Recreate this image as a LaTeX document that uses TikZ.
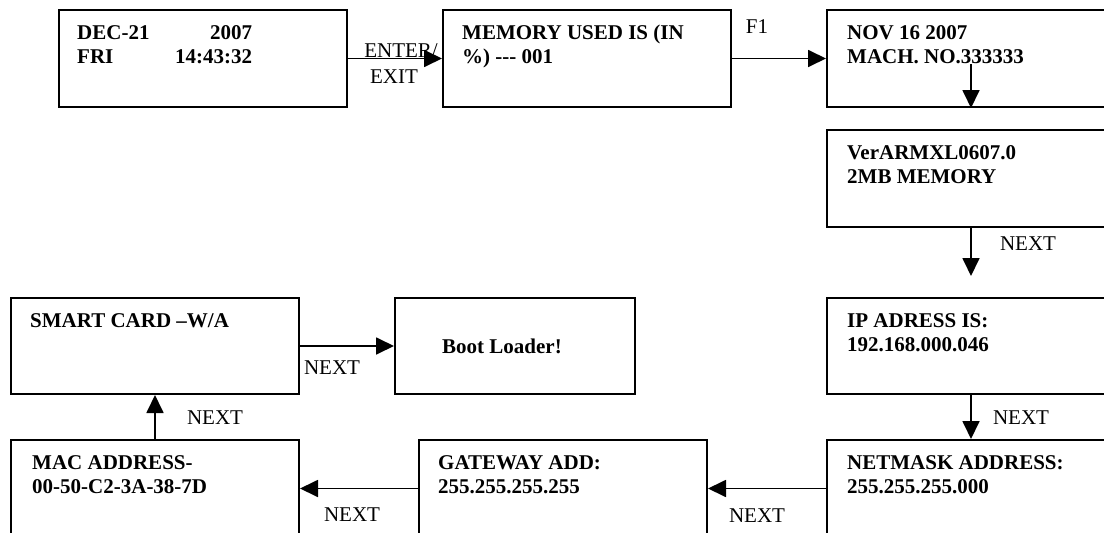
\documentclass[tikz,border=0pt]{standalone}
\usepackage{fontspec}
\setmainfont{Liberation Serif}
\usetikzlibrary{arrows.meta,calc}
\begin{document}
\begin{tikzpicture}[x=1pt,y=-1pt,
  box/.style={draw,line width=2pt,rectangle,minimum width=288pt,minimum height=97pt,anchor=north west,inner sep=0pt},
  txt/.style={anchor=north west,inner sep=0pt,align=left,font=\fontsize{21}{24}\selectfont\bfseries},
  lbl/.style={anchor=base,inner sep=0pt,font=\fontsize{21}{24}\selectfont},
  arr/.style={line width=1.8pt,-{Triangle[length=18pt,width=17pt]}}]
\clip (0,0) rectangle (1104,533);
\useasboundingbox (0,0) rectangle (1104,533);
% boxes
\node[box] (b1) at (58,9) {};
\node[box] (b2) at (442,9) {};
\node[box] (b3) at (826,9) {};
\node[box] (b4) at (826,129) {};
\node[box,minimum height=96pt] (b5) at (826,297) {};
\node[box] (b6) at (826,439) {};
\node[box] (b7) at (418,439) {};
\node[box] (b8) at (10,439) {};
\node[box,minimum height=96pt] (b9) at (10,297) {};
\node[box,minimum width=240pt,minimum height=96pt] (b10) at (394,297) {};
% texts
\node[txt] (t1) at (77,22) {\strut\makebox[175pt]{DEC-21\hfill 2007}\\\makebox[175pt]{FRI\hfill 14:43:32}};
\node[txt] (t2) at (462,22) {\strut MEMORY USED IS (IN\\\%) -{}-{}- 001};
\node[txt] (t3) at (847,22) {\strut NOV 16 2007\\MACH. NO.333333};
\node[txt] (t4) at (847,142) {\strut VerARMXL0607.0\\2MB MEMORY};
\node[txt] (t5) at (847,310) {\strut IP ADRESS IS:\\192.168.000.046};
\node[txt] (t6) at (847,452) {\strut NETMASK ADDRESS:\\255.255.255.000};
\node[txt] (t7) at (438,452) {\strut GATEWAY ADD:\\255.255.255.255};
\node[txt] (t8) at (32,452) {\strut MAC ADDRESS-\\00-50-C2-3A-38-7D};
\node[txt] (t9) at (30,310) {\strut SMART CARD –W/A};
\node[txt,anchor=base west] (t10) at (442,353) {Boot Loader!};
% connectors
\coordinate (c3) at ($(b3.center)+(0,5.5)$);
\coordinate (c4) at ($(b4.south)+(0,48)$);
\draw[arr] (b1.east) -- (b2.west);
\draw[arr] (b2.east) -- (b3.west);
\draw[arr] (c3) -- (b3.south);
\draw[arr] (b4.south) -- (c4);
\draw[arr] (b5.south) -- (b6.north);
\draw[arr] (b6.west) -- (b7.east);
\draw[arr] (b7.west) -- (b8.east);
\draw[arr] (b8.north) -- (b9.south);
\draw[arr] (b9.east) -- (b10.west);
% labels
\node[lbl] (l1) at (401,57) {ENTER/};
\node[lbl] (l2) at (394,83) {EXIT};
\node[lbl] (l3) at (757,33) {F1};
\node[lbl] (l4) at (1028,250) {NEXT};
\node[lbl] (l5) at (1021,424) {NEXT};
\node[lbl] (l6) at (757,522) {NEXT};
\node[lbl] (l7) at (352,521) {NEXT};
\node[lbl] (l8) at (215,424) {NEXT};
\node[lbl] (l9) at (332,374) {NEXT};
\end{tikzpicture}
\end{document}
